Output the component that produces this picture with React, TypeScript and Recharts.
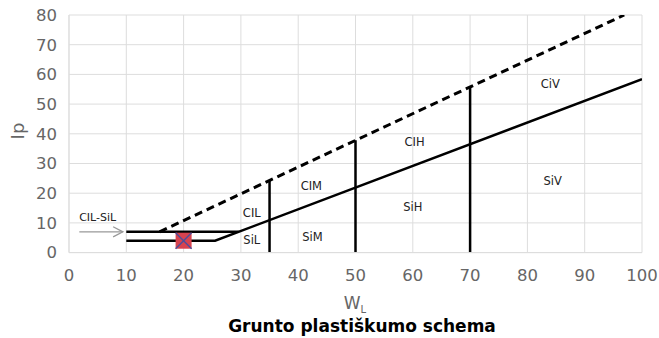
import React from 'react';
import { ComposedChart, Line, Scatter, XAxis, YAxis, CartesianGrid } from 'recharts';

const xTicks = [0, 10, 20, 30, 40, 50, 60, 70, 80, 90, 100];
const yTicks = [0, 10, 20, 30, 40, 50, 60, 70, 80];

const aLine = [{ x: 10, y: 4 }, { x: 25.5, y: 4 }, { x: 100, y: 58.4 }];
const lowerLimit = [{ x: 10, y: 7 }, { x: 29.6, y: 7 }];
const uLine = [{ x: 15.8, y: 7 }, { x: 96.9, y: 80 }];
const div35 = [{ x: 35, y: 0 }, { x: 35, y: 24.4 }];
const div50 = [{ x: 50, y: 0 }, { x: 50, y: 37.8 }];
const div70 = [{ x: 70, y: 0 }, { x: 70, y: 55.8 }];
const arrowShaft = [{ x: 1.8, y: 7 }, { x: 9.4, y: 7 }];
const arrowHead = [{ x: 7.7, y: 8.7 }, { x: 9.4, y: 7 }, { x: 7.7, y: 5.3 }];
const samplePoint = [{ x: 20, y: 4 }];
const zoneLabels = [
  { x: 31.9, y: 13.5, label: 'CIL' },
  { x: 31.9, y: 4.4, label: 'SiL' },
  { x: 42.3, y: 22.5, label: 'CIM' },
  { x: 42.5, y: 5.4, label: 'SiM' },
  { x: 60.3, y: 37.2, label: 'CIH' },
  { x: 60.0, y: 15.2, label: 'SiH' },
  { x: 84.0, y: 56.8, label: 'CiV' },
  { x: 84.4, y: 24.0, label: 'SiV' },
];
const arrowLabel = [{ x: 5.0, y: 11.7, label: 'CIL-SiL' }];

const FONT = '"DejaVu Sans", sans-serif';

const TextShape = (size: number) => (props: any) => {
  const { cx, cy, payload } = props;
  return (
    <text x={cx} y={cy} textAnchor="middle" dominantBaseline="central" fontSize={size} fontFamily={FONT} fill="#222">
      {payload.label}
    </text>
  );
};

const PointShape = (props: any) => {
  const { cx, cy } = props;
  const h = 8;
  return (
    <g>
      <rect x={cx - h} y={cy - h} width={2 * h} height={2 * h} fill="#d8434f" />
      <line x1={cx - h} y1={cy - h} x2={cx + h} y2={cy + h} stroke="#4b4f9e" strokeWidth={1.3} />
      <line x1={cx - h} y1={cy + h} x2={cx + h} y2={cy - h} stroke="#4b4f9e" strokeWidth={1.3} />
    </g>
  );
};

export default function App() {
  const tick = { fontSize: 16.5, fill: '#666', fontFamily: FONT };
  const solid = { stroke: '#000', strokeWidth: 2.5, dot: false, isAnimationActive: false, type: 'linear' as const, dataKey: 'y' };
  return (
    <div style={{ position: 'absolute', left: 0, top: 0, width: 659, height: 338 }}>
      <ComposedChart width={659} height={338} margin={{ top: 15, right: 17, left: 9, bottom: 55.4 }}>
        <CartesianGrid stroke="#dddddd" strokeWidth={1} />
        <XAxis
          type="number"
          dataKey="x"
          domain={[0, 100]}
          ticks={xTicks}
          interval={0}
          tick={tick}
          tickLine={false}
          axisLine={{ stroke: '#dddddd' }}
          tickMargin={11}
          height={30}
          allowDataOverflow
        />
        <YAxis
          type="number"
          dataKey="y"
          domain={[0, 80]}
          ticks={yTicks}
          interval={0}
          tick={tick}
          tickLine={false}
          axisLine={{ stroke: '#dddddd' }}
          tickMargin={6}
          width={60}
          allowDataOverflow
        />
        <Line data={lowerLimit} {...solid} />
        <Line data={aLine} {...solid} />
        <Line data={uLine} {...solid} strokeWidth={3} strokeDasharray="8 5" />
        <Line data={div35} {...solid} />
        <Line data={div50} {...solid} />
        <Line data={div70} {...solid} />
        <Line data={arrowShaft} {...solid} stroke="#999" strokeWidth={1.3} />
        <Line data={arrowHead} {...solid} stroke="#999" strokeWidth={1.3} />
        <Scatter data={samplePoint} shape={PointShape} isAnimationActive={false} />
        <Scatter data={zoneLabels} shape={TextShape(11.5)} isAnimationActive={false} />
        <Scatter data={arrowLabel} shape={TextShape(11)} isAnimationActive={false} />
      </ComposedChart>
      <svg width={659} height={338} style={{ position: 'absolute', left: 0, top: 0, pointerEvents: 'none' }}>
        <text x={17} y={131} transform="rotate(-90 17 131)" textAnchor="middle" dominantBaseline="central" fontSize={18} fontFamily={FONT} fill="#666">
          Ip
        </text>
        <text x={355} y={309} textAnchor="middle" fontSize={17} fontFamily={FONT} fill="#666">
          W<tspan fontSize={10} dy={4}>L</tspan>
        </text>
        <text x={362} y={332} textAnchor="middle" fontSize={17} fontWeight="bold" fontFamily={FONT} fill="#000">
          Grunto plastiškumo schema
        </text>
      </svg>
    </div>
  );
}
